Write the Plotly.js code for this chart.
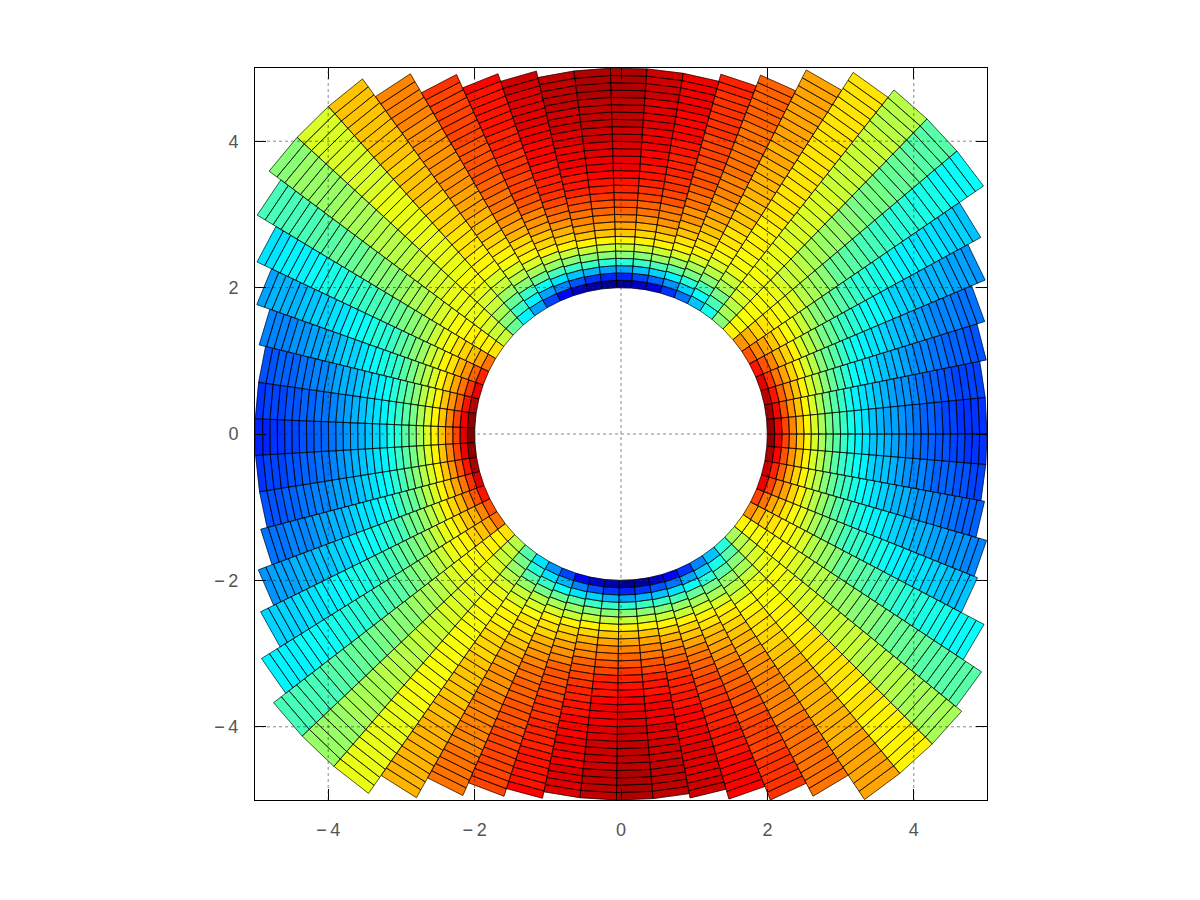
<!DOCTYPE html>
<html>
<head>
<meta charset="utf-8">
<script src="https://cdn.plot.ly/plotly-3.0.1.min.js"></script>
<style>html,body{margin:0;padding:0;background:#fff}</style>
</head>
<body>
<div id="chart" style="width:1200px;height:900px"></div>
<script>
// Spoke angles in degrees (64 edges, 63 wedges)
const spokeAngles = [0,5.73,11.46,17.19,22.92,28.65,34.38,40.11,45.84,51.57,57.3,63.03,68.75,74.48,80.21,85.94,
  91.67,97.4,103.13,108.86,114.59,120.32,126.05,131.78,137.51,143.24,148.97,154.7,160.43,166.16,171.89,177.62,
  183.35,189.08,194.81,200.54,206.26,211.99,217.72,223.45,229.18,234.91,240.64,246.37,252.1,257.83,263.56,269.29,
  275.02,280.75,286.48,292.21,297.94,303.67,309.4,315.13,320.86,326.59,332.32,338.05,343.77,349.5,355.23,360];
// Outer radius of each wedge
const outerRadius = [5,5,5.09,5.2,5.4,5.6,6,6,6,5.87,5.58,5.26,5.1,5,5,5,
  5,5,5.09,5.2,5.4,5.7,6,6,6,5.8,5.5,5.28,5.09,5,5,5,
  5,5,5.09,5.29,5.49,5.79,6,6,6,5.7,5.39,5.2,5.09,5,5,5,
  5,5.06,5.2,5.4,5.6,6,6,6,5.9,5.6,5.25,5.2,5.05,5,5];
const innerRadius = 2;
// Ring positions across a wedge (0 inner, 30 outer)
const ringSteps = [0,1,2,3,4,5,6,7,8,9,10,11,12,13,14,15,16,17,18,19,20,21,22,23,24,25,26,27,28,29,30];
// Colour level along the wedge at the top (inner to outer)
const topColumn = [.02,.164,.292,.414,.502,.571,.64,.679,.713,.747,.777,.80,.826,.845,.865,.875,.885,.895,.90,.91,.915,.924,.93,.934,.94,.944,.949,.95,.954,.958];
// Colour level along the wedge at the right (inner to outer)
const sideColumn = [1,.90,.816,.747,.689,.64,.586,.542,.493,.453,.419,.39,.355,.336,.316,.301,.287,.272,.257,.243,.228,.218,.208,.199,.189,.184,.174,.169,.164,.159];
// Share of the side column in each wedge
const wedgeBlend = [.989,.97,.94,.903,.854,.793,.726,.623,.50,.384,.305,.225,.152,.08,.042,0,
  0,.02,.05,.115,.175,.27,.35,.47,.555,.65,.757,.835,.89,.94,.976,1,
  .976,.945,.903,.854,.787,.751,.65,.543,.446,.329,.25,.177,.116,.067,.022,0,
  .02,.05,.103,.164,.238,.311,.397,.524,.629,.726,.806,.879,.922,.958,.983];
const tickValues = [-4,-2,0,2,4];
const tickLabels = ['\u2212\u20094','\u2212\u20092','0','2','4'];
const jetStops = [[0,0,0,128],[.125,0,0,255],[.375,0,255,255],[.625,255,255,0],[.875,255,0,0],[1,128,0,0]];
const levels = 64;

function jet(v){
  for(let s=1;s<jetStops.length;s++){
    if(v<=jetStops[s][0]){
      const a=jetStops[s-1],b=jetStops[s],t=(v-a[0])/(b[0]-a[0]);
      return 'rgb('+[1,2,3].map(c=>Math.round(a[c]+(b[c]-a[c])*t)).join(',')+')';
    }
  }
  return 'rgb(128,0,0)';
}
const buckets = Array.from({length:levels},()=>({x:[],y:[]}));
const edgesX=[],edgesY=[];
for(let k=0;k<wedgeBlend.length;k++){
  const a0=spokeAngles[k]*Math.PI/180,a1=spokeAngles[k+1]*Math.PI/180;
  const dr=(outerRadius[k]-innerRadius)/30;
  for(let i=0;i<30;i++){
    const r0=innerRadius+ringSteps[i]*dr,r1=innerRadius+ringSteps[i+1]*dr;
    const v=sideColumn[i]*wedgeBlend[k]+topColumn[i]*(1-wedgeBlend[k]);
    const b=buckets[Math.round(v*(levels-1))];
    const xs=[r0*Math.cos(a0),r1*Math.cos(a0),r1*Math.cos(a1),r0*Math.cos(a1),r0*Math.cos(a0)];
    const ys=[r0*Math.sin(a0),r1*Math.sin(a0),r1*Math.sin(a1),r0*Math.sin(a1),r0*Math.sin(a0)];
    b.x.push(...xs,null);b.y.push(...ys,null);
    edgesX.push(...xs,null);edgesY.push(...ys,null);
  }
}
const traces=[];
buckets.forEach((b,l)=>{
  if(!b.x.length)return;
  const c=jet(l/(levels-1));
  traces.push({type:'scatter',mode:'lines',x:b.x,y:b.y,fill:'toself',fillcolor:c,line:{width:0.5,color:c},hoverinfo:'skip',showlegend:false});
});
traces.push({type:'scatter',mode:'lines',x:edgesX,y:edgesY,line:{width:0.8,color:'rgba(0,0,0,0.8)'},hoverinfo:'skip',showlegend:false});

const gridShapes=[];
tickValues.forEach(t=>{
  const g={type:'line',layer:'above',line:{color:'rgba(40,40,40,0.55)',width:1,dash:'dot'}};
  gridShapes.push(Object.assign({xref:'x',yref:'y',x0:t,x1:t,y0:-5,y1:5},g));
  gridShapes.push(Object.assign({xref:'x',yref:'y',x0:-5,x1:5,y0:t,y1:t},g));
});
const axis={range:[-5,5],tickmode:'array',tickvals:tickValues,ticktext:tickLabels,ticks:'inside',ticklen:11,tickwidth:1,tickcolor:'#000',
  showline:true,linecolor:'#000',linewidth:1,mirror:'ticks',showgrid:false,zeroline:false,
  tickfont:{family:'Liberation Sans, sans-serif',size:18,color:'#555'},layer:'above traces'};
Plotly.newPlot('chart',traces,{
  width:1200,height:900,margin:{l:255,r:213,t:68,b:100},
  paper_bgcolor:'#fff',plot_bgcolor:'#fff',showlegend:false,shapes:gridShapes,
  xaxis:Object.assign({},axis,{ticklabelstandoff:13}),
  yaxis:Object.assign({},axis,{ticklabelstandoff:12})
},{displayModeBar:false,staticPlot:true});
</script>
</body>
</html>
